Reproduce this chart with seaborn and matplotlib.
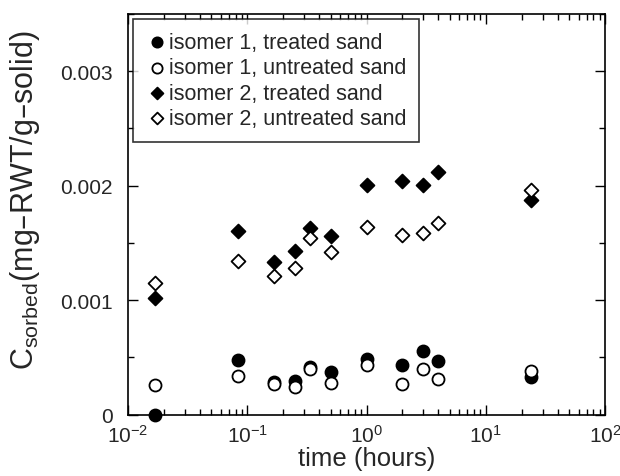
import numpy as np
import pandas as pd
import matplotlib
matplotlib.use("Agg")
import matplotlib.pyplot as plt
import matplotlib.ticker as mticker
import seaborn as sns

# ---- data ----
time_h = [0.0167, 0.0833, 0.1667, 0.25, 0.333, 0.5, 1.0, 2.0, 3.0, 4.0, 24.0]
iso1_treated   = [0.0, 0.00048, 0.000283, 0.000297, 0.000414, 0.000376, 0.000486, 0.000437, 0.000554, 0.000472, 0.000327]
iso1_untreated = [0.00026, 0.00034, 0.00027, 0.00024, 0.00040, 0.000277, 0.000434, 0.000268, 0.00040, 0.000312, 0.000384]
iso2_treated   = [0.001022, 0.001607, 0.00133, 0.001432, 0.00163, 0.001558, 0.002006, 0.002044, 0.002006, 0.002117, 0.001878]
iso2_untreated = [0.001148, 0.00134, 0.00121, 0.00128, 0.001546, 0.001424, 0.001642, 0.001572, 0.001584, 0.001674, 0.001965]
labels = ["isomer 1, treated sand", "isomer 1, untreated sand",
          "isomer 2, treated sand", "isomer 2, untreated sand"]
x_ticks = [1e-2, 1e-1, 1e0, 1e1, 1e2]
y_ticks = [0, 0.001, 0.002, 0.003]

sns.set_theme(style="ticks")
plt.rcParams["font.family"] = ["Liberation Sans", "DejaVu Sans"]
plt.rcParams["mathtext.default"] = "regular"

fig = plt.figure(figsize=(6.2, 4.77), dpi=100)
ax = fig.add_axes([0.2065, 0.1285, 0.7693, 0.8401])

series = [
    (iso1_treated, "o", "black"),
    (iso1_untreated, "o", "white"),
    (iso2_treated, "D", "black"),
    (iso2_untreated, "D", "white"),
]
for (vals, mk, fc), lab in zip(series, labels):
    df = pd.DataFrame({"time": time_h, "C": vals})
    s = 75 if mk == "o" else 50
    sns.scatterplot(data=df, x="time", y="C", ax=ax, marker=mk, s=s,
                    facecolor=fc, edgecolor="black", linewidth=1.3,
                    label=lab, zorder=3, clip_on=False)

ax.set_xscale("log")
ax.set_xlim(1e-2, 1e2)
ax.set_ylim(0, 0.0035)
ax.set_xticks(x_ticks)
ax.xaxis.set_major_formatter(mticker.LogFormatterSciNotation())
ax.xaxis.set_minor_locator(mticker.LogLocator(base=10, subs=np.arange(2, 10)))
ax.xaxis.set_minor_formatter(mticker.NullFormatter())
ax.set_yticks(y_ticks)
ax.set_yticklabels(["0" if v == 0 else f"{v:.3f}" for v in y_ticks])
ax.yaxis.set_minor_locator(mticker.MultipleLocator(0.0005))

ax.tick_params(which="both", direction="in", top=True, right=True,
               labelsize=15, color="black", width=1.0)
ax.tick_params(axis="y", which="major", length=7, pad=11)
ax.tick_params(axis="x", which="major", length=7, pad=6.5)
ax.tick_params(which="minor", length=4)
for sp in ax.spines.values():
    sp.set_linewidth(1.2)
    sp.set_color("black")
    sp.set_visible(True)

ax.set_xlabel("time (hours)", fontsize=18.5)
ax.set_ylabel("C$_{sorbed}$(mg\u2013RWT/g\u2013solid)", fontsize=22)
ax.xaxis.set_label_coords(0.5, -0.077)
ax.yaxis.set_label_coords(-0.18, 0.538)

leg = ax.legend(loc="upper left", bbox_to_anchor=(0.0105, 0.9875), fontsize=15.5,
                frameon=True, fancybox=False, edgecolor="black",
                handletextpad=0.05, labelspacing=0.2, borderpad=0.6,
                markerscale=0.85, handlelength=1.0, borderaxespad=0.0)
leg.get_frame().set_linewidth(1.2)

fig.savefig("out.png", dpi=100)
